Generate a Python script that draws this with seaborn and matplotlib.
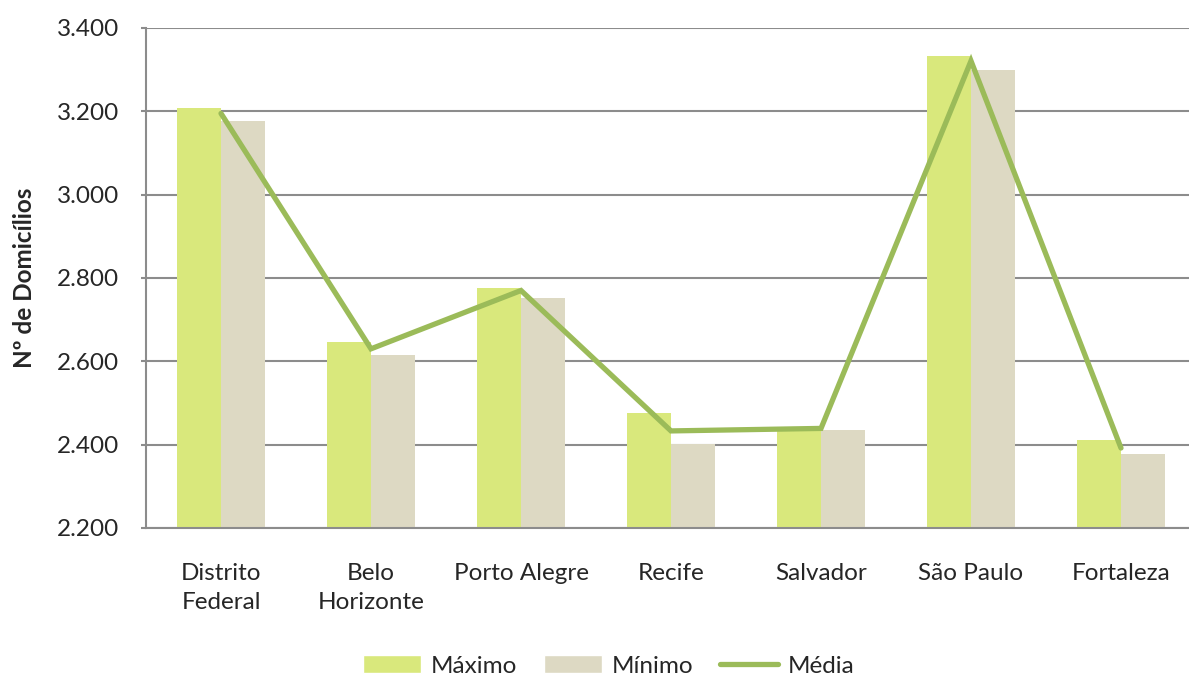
import pandas as pd
import matplotlib
matplotlib.use('Agg')
import matplotlib.pyplot as plt
import seaborn as sns
from matplotlib.patches import Patch
from matplotlib.lines import Line2D

# data
cidades = ['Distrito\nFederal', 'Belo\nHorizonte', 'Porto Alegre', 'Recife',
           'Salvador', 'São Paulo', 'Fortaleza']
maximo = [3207, 2647, 2775, 2476, 2440, 3332, 2412]
minimo = [3178, 2616, 2752, 2402, 2436, 3300, 2378]
media = [3195, 2630, 2770, 2433, 2439, 3321, 2392]

cor_max = '#D9E87C'
cor_min = '#DDD9C3'
cor_media = '#9BBB59'

sns.set_style('white')
plt.rcParams['font.family'] = ['Lato', 'DejaVu Sans']

df = pd.DataFrame({
    'cidade': cidades * 2,
    'valor': maximo + minimo,
    'serie': ['Máximo'] * len(cidades) + ['Mínimo'] * len(cidades),
})

fig = plt.figure(figsize=(11.89, 6.78), dpi=100)
ax = fig.add_axes([146 / 1189, 1 - 528 / 678, 1050 / 1189, 500 / 678])

sns.barplot(data=df, x='cidade', y='valor', hue='serie',
            palette=[cor_max, cor_min], width=0.587, saturation=1,
            linewidth=0, legend=False, ax=ax, zorder=2)
ax.plot(range(len(cidades)), media, color=cor_media, lw=3.8,
        solid_capstyle='round', solid_joinstyle='miter', zorder=3)

ax.set_ylim(2200, 3400)
ax.set_xlim(-0.5, len(cidades) - 0.5)
ax.set_yticks(range(2200, 3401, 200))
ax.set_yticklabels([f'{v:,}'.replace(',', '.') for v in range(2200, 3401, 200)])
ax.yaxis.grid(True, color='#8c8c8c', lw=1.5, zorder=0)
ax.set_axisbelow(True)

for s in ['top', 'right']:
    ax.spines[s].set_visible(False)
for s in ['left', 'bottom']:
    ax.spines[s].set_color('#8c8c8c')
    ax.spines[s].set_linewidth(1.5)

ax.tick_params(axis='y', left=True, length=3.6, width=1.5, color='#8c8c8c',
               labelsize=17.5, pad=16)
ax.tick_params(axis='x', bottom=False, labelsize=17.5, pad=22)
for t in ax.get_xticklabels():
    t.set_linespacing(1.45)
ax.set_xlabel('')
ax.set_ylabel('Nº de Domicílios', fontsize=17.5, fontweight='bold', labelpad=15)

handles = [Patch(facecolor=cor_max), Patch(facecolor=cor_min),
           Line2D([0], [0], color=cor_media, lw=3.8)]
fig.legend(handles, ['Máximo', 'Mínimo', 'Média'], loc='center',
           bbox_to_anchor=(0.512, 1 - 666 / 678), ncol=3, frameon=False,
           fontsize=17.5, handlelength=2.4, handleheight=0.7,
           columnspacing=1.1, handletextpad=0.4)

fig.savefig('out.png', dpi=100)
